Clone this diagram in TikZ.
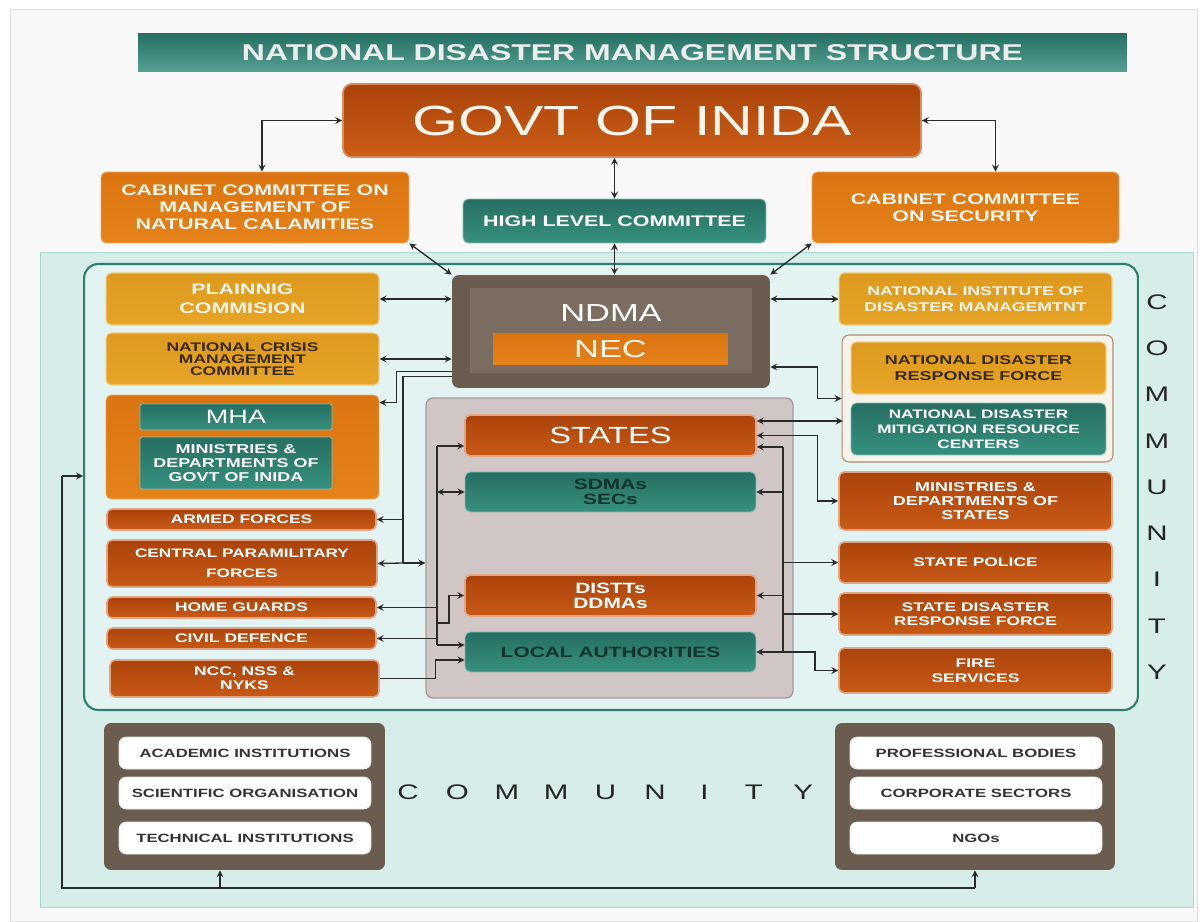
\documentclass[tikz,border=0pt]{standalone}
\usepackage{fontspec}
\setmainfont[FakeStretch=1.4]{Liberation Sans}
\usepackage{tikz}
\usetikzlibrary{arrows}

\definecolor{tealbar}{HTML}{37907F}
\definecolor{tealdark}{HTML}{256F62}
\definecolor{rust}{HTML}{C85A16}
\definecolor{rustdark}{HTML}{AB430B}
\definecolor{rustedge}{HTML}{E2A487}
\definecolor{amber}{HTML}{E5821A}
\definecolor{amberdark}{HTML}{DA7410}
\definecolor{golden}{HTML}{E6A526}
\definecolor{goldendark}{HTML}{DD9A1E}
\definecolor{mudbrown}{HTML}{6A5C4F}
\definecolor{mudlight}{HTML}{7B6D61}
\definecolor{panelcyan}{HTML}{D6EDE9}
\definecolor{panelinner}{HTML}{E2F3F1}
\definecolor{panelline}{HTML}{2E7D6F}
\definecolor{paneledge}{HTML}{A8D8D0}
\definecolor{stategray}{HTML}{D0C6C6}
\definecolor{stateedge}{HTML}{A59B9B}
\definecolor{inkdark}{HTML}{2A2A2A}
\definecolor{textbrown}{HTML}{3A2910}
\definecolor{textteal}{HTML}{14332E}
\definecolor{cream}{HTML}{FFF5EA}
\definecolor{ndrffill}{HTML}{F6F2EC}
\definecolor{ndrfedge}{HTML}{B38B6D}
\definecolor{pagegray}{HTML}{F8F8F8}
\definecolor{govtedge}{HTML}{D98A5E}

\newcommand{\headfont}{\fontsize{13}{15}\selectfont\bfseries}
\newcommand{\govtfont}{\fontsize{24}{28}\selectfont}
\newcommand{\midfont}{\fontsize{8.7}{9.6}\selectfont\bfseries}
\newcommand{\boxfont}{\fontsize{7.1}{8.2}\selectfont\bfseries}
\newcommand{\bigfont}{\fontsize{14}{16}\selectfont}

\tikzstyle{boxbase} = [rectangle, rounded corners=3pt, text centered, align=center, inner sep=1pt, text=white]
\tikzstyle{rustbox} = [boxbase, draw=rustedge, line width=0.9pt, top color=rustdark, bottom color=rust, font=\boxfont]
\tikzstyle{amberbox} = [boxbase, draw=amber!70!white, line width=0.5pt, top color=amberdark, bottom color=amber]
\tikzstyle{goldbox} = [boxbase, draw=golden!60!white, line width=0.6pt, top color=goldendark, bottom color=golden, font=\boxfont]
\tikzstyle{tealbox} = [boxbase, draw=tealbar!60!white, line width=0.5pt, top color=tealdark, bottom color=tealbar]
\tikzstyle{mudbox} = [rectangle, rounded corners=4pt, fill=mudbrown]
\tikzstyle{whitebox} = [boxbase, rounded corners=4pt, fill=white, draw=black!10, text=black!80, font=\fontsize{6.8}{8}\selectfont\bfseries, minimum width=5.04cm, minimum height=0.64cm]
\tikzstyle{commletter} = [text=black!85, font=\fontsize{12}{14}\selectfont, inner sep=0pt]
\tikzstyle{arrow} = [->,>=stealth, draw=inkdark, line width=0.75pt]
\tikzstyle{dblarrow} = [<->,>=stealth, draw=inkdark, line width=0.75pt]
\tikzstyle{wire} = [draw=inkdark, line width=0.75pt]

\begin{document}
\begin{tikzpicture}[x=0.02cm, y=-0.02cm]
%页面
\useasboundingbox (0,0) rectangle (1204,922);
\fill [white] (0,0) rectangle (1204,922);
\draw [black!12, fill=pagegray] (10,9) rectangle (1197,921);

%标题与中央政府
\node (title) [boxbase, rounded corners=0pt, top color=tealdark, bottom color=tealbar!85!white, minimum width=19.78cm, minimum height=0.78cm, font=\headfont, text=white!93!black] at (632.5,52.5) {NATIONAL DISASTER MANAGEMENT STRUCTURE};
\node (govt) [boxbase, rounded corners=5pt, draw=govtedge, line width=1pt, top color=rustdark, bottom color=rust!90!amber, minimum width=11.56cm, minimum height=1.46cm, font=\govtfont, text=cream] at (632,120.5) {GOVT OF INIDA};
\node (ccmnc) [amberbox, minimum width=6.16cm, minimum height=1.42cm, font=\midfont, text=cream] at (255,207.5) {CABINET COMMITTEE ON\\MANAGEMENT OF\\NATURAL CALAMITIES};
\node (hlc) [tealbox, minimum width=6.06cm, minimum height=0.88cm, font=\midfont] at (614.5,221) {HIGH LEVEL COMMITTEE};
\node (ccs) [amberbox, minimum width=6.14cm, minimum height=1.42cm, font=\midfont, text=cream] at (965.5,207.5) {CABINET COMMITTEE\\ON SECURITY};

%底板
\node (commpanel) [rectangle, fill=panelcyan, draw=paneledge, minimum width=23.06cm, minimum height=13.1cm] at (616.5,579.5) {};
\node (govpanel) [rectangle, rounded corners=8pt, fill=panelinner, draw=panelline, line width=1.2pt, minimum width=21.08cm, minimum height=8.92cm] at (611,487) {};

%NDMA
\node (ndma) [mudbox, minimum width=6.36cm, minimum height=2.26cm] at (611,331.5) {};
\node (ndmainner) [rectangle, fill=mudlight, minimum width=5.64cm, minimum height=1.7cm] at (611,330.5) {};
\node (ndmalabel) [text=white, font=\bigfont] at (611,313) {NDMA};
\node (nec) [rectangle, top color=amberdark, bottom color=amber, minimum width=4.7cm, minimum height=0.64cm, text=cream, font=\bigfont, inner sep=0pt] at (610.5,349) {NEC};

%州和地方
\node (statepanel) [rectangle, rounded corners=4pt, fill=stategray, draw=stateedge, line width=0.8pt, minimum width=7.34cm, minimum height=6cm] at (609.5,548) {};
\node (states) [rustbox, minimum width=5.82cm, minimum height=0.82cm, font=\fontsize{13.3}{15}\selectfont] at (610.5,435.5) {STATES};
\node (sdma) [tealbox, minimum width=5.82cm, minimum height=0.8cm, text=textteal, font=\fontsize{8.5}{8.4}\selectfont\bfseries] at (610.5,492) {SDMAs\\SECs};
\node (distt) [rustbox, minimum width=5.82cm, minimum height=0.82cm, font=\fontsize{8.5}{8.4}\selectfont\bfseries] at (610.5,595.5) {DISTTs\\DDMAs};
\node (local) [tealbox, minimum width=5.82cm, minimum height=0.8cm, text=textteal, font=\fontsize{8.5}{10}\selectfont\bfseries] at (610.5,652) {LOCAL AUTHORITIES};

%左列
\node (plan) [goldbox, minimum width=5.46cm, minimum height=1.04cm, font=\fontsize{8.7}{10.8}\selectfont\bfseries, text=cream] at (242.5,299) {PLAINNIG\\COMMISION};
\node (ncmc) [goldbox, minimum width=5.46cm, minimum height=1.04cm, font=\fontsize{7.1}{6.9}\selectfont\bfseries, text=textbrown] at (242.5,359) {NATIONAL CRISIS\\MANAGEMENT\\COMMITTEE};
\node (mhabox) [amberbox, minimum width=5.46cm, minimum height=2.08cm] at (242.5,447) {};
\node (mha) [tealbox, rounded corners=1pt, minimum width=3.84cm, minimum height=0.52cm, font=\fontsize{11}{12}\selectfont, inner sep=0pt] at (236,417) {MHA};
\node (mingov) [tealbox, rounded corners=1pt, minimum width=3.84cm, minimum height=1.04cm, font=\fontsize{7.3}{8.2}\selectfont\bfseries] at (236,463) {MINISTRIES \&\\DEPARTMENTS OF\\GOVT OF INIDA};
\node (armed) [rustbox, minimum width=5.38cm, minimum height=0.42cm] at (241.5,519.5) {ARMED FORCES};
\node (cpf) [rustbox, minimum width=5.4cm, minimum height=0.94cm, font=\fontsize{7}{11.3}\selectfont\bfseries] at (242,563.5) {CENTRAL PARAMILITARY\\FORCES};
\node (hguards) [rustbox, minimum width=5.38cm, minimum height=0.42cm] at (241.5,607.5) {HOME GUARDS};
\node (cdef) [rustbox, minimum width=5.38cm, minimum height=0.42cm] at (241.5,638.5) {CIVIL DEFENCE};
\node (ncc) [rustbox, minimum width=5.38cm, minimum height=0.74cm, font=\fontsize{7.1}{8}\selectfont\bfseries] at (244.5,678.5) {NCC, NSS \&\\NYKS};

%右列
\node (nidm) [goldbox, minimum width=5.46cm, minimum height=1.04cm, font=\fontsize{7.2}{9}\selectfont\bfseries, text=cream] at (975.5,299) {NATIONAL INSTITUTE OF\\DISASTER MANAGEMTNT};
\node (ndrfbox) [rectangle, rounded corners=4pt, fill=ndrffill, draw=ndrfedge, line width=0.6pt, minimum width=5.42cm, minimum height=2.54cm] at (977.5,398.5) {};
\node (ndrf) [goldbox, minimum width=5.1cm, minimum height=1.04cm, font=\fontsize{7.3}{8.8}\selectfont\bfseries, text=textbrown] at (978.5,368) {NATIONAL DISASTER\\RESPONSE FORCE};
\node (ndmrc) [tealbox, minimum width=5.1cm, minimum height=1.04cm, font=\fontsize{7}{8.5}\selectfont\bfseries] at (978.5,429) {NATIONAL DISASTER\\MITIGATION RESOURCE\\CENTERS};
\node (mds) [rustbox, minimum width=5.46cm, minimum height=1.16cm, font=\fontsize{7.3}{8}\selectfont\bfseries] at (975.5,501) {MINISTRIES \&\\DEPARTMENTS OF\\STATES};
\node (spolice) [rustbox, minimum width=5.46cm, minimum height=0.82cm] at (975.5,562.5) {STATE POLICE};
\node (sdrf) [rustbox, minimum width=5.46cm, minimum height=0.84cm, font=\fontsize{7.1}{8.3}\selectfont\bfseries] at (975.5,614) {STATE DISASTER\\RESPONSE FORCE};
\node (fire) [rustbox, minimum width=5.46cm, minimum height=0.9cm, font=\fontsize{7.1}{8.5}\selectfont\bfseries] at (975.5,670.5) {FIRE\\SERVICES};

%社区
\node (lbrown) [mudbox, minimum width=5.62cm, minimum height=2.94cm] at (244.5,796.5) {};
\node (acad) [whitebox] at (245,753) {ACADEMIC INSTITUTIONS};
\node (scien) [whitebox] at (245,793) {SCIENTIFIC ORGANISATION};
\node (techn) [whitebox] at (245,838) {TECHNICAL INSTITUTIONS};
\node (rbrown) [mudbox, minimum width=5.6cm, minimum height=2.94cm] at (975,796.5) {};
\node (profb) [whitebox] at (976,753) {PROFESSIONAL BODIES};
\node (corps) [whitebox] at (976,793) {CORPORATE SECTORS};
\node (ngos) [whitebox] at (976,838) {NGOs};
\foreach \ch [count=\i from 0] in {C,O,M,M,U,N,I,T,Y} {
  \node (across\i) [commletter] at (408+49.4*\i,792) {\ch};
  \node (down\i) [commletter] at (1157,302+46.25*\i) {\ch};
}

%连接上层
\draw [dblarrow] (govt.west) -| ([xshift=0.14cm]ccmnc.north);
\draw [dblarrow] (govt.east) -| ([xshift=0.6cm]ccs.north);
\draw [dblarrow] (hlc.north) -- (hlc.north |- govt.south);
\draw [dblarrow] (hlc.south) -- (hlc.south |- ndma.north);
\draw [dblarrow] (ccmnc.south east) -- (ndma.north west);
\draw [dblarrow] (ccs.south west) -- (ndma.north east);

%连接左列
\draw [dblarrow] (plan.east) -- (plan.east -| ndma.west);
\draw [dblarrow] (ncmc.east) -- (ncmc.east -| ndma.west);
\draw [arrow] ([yshift=0.34cm]ndma.south west) -- ++(-55,0) |- ([yshift=-0.16cm]mhabox.north east);
\coordinate (lknot) at (403,563);
\draw [wire] ([yshift=0.24cm]ndma.south west) -| (lknot);
\draw [arrow] (lknot) -- (cpf.east);
\draw [arrow] (lknot) -- (lknot -| statepanel.west);
\draw [arrow] (lknot |- armed.east) -- (armed.east);
\coordinate (ltop) at (437,446);
\coordinate (lbot) at (437,645);
\draw [wire] (ltop) -- (lbot);
\draw [arrow] (ltop) -- (ltop -| states.west);
\draw [dblarrow] (ltop |- sdma.west) -- (sdma.west);
\draw [arrow] (ltop |- hguards.east) -- (hguards.east);
\draw [arrow] (ltop |- cdef.east) -- (cdef.east);
\draw [arrow] (lbot) -- (lbot -| local.west);
\coordinate (dknot) at (437,623);
\draw [arrow] (dknot) -- ++(12,0) |- (distt.west);
\draw [arrow] (ncc.east) -- ++(56,0) |- ([yshift=-0.16cm]local.west);

%连接右列
\draw [dblarrow] (nidm.west) -- (nidm.west -| ndma.east);
\draw [dblarrow] ([yshift=-0.71cm]ndma.east) -- ++(47,0) |- (ndrfbox.west);
\draw [dblarrow] ([yshift=0.29cm]states.east) -- ++(86,0);
\draw [dblarrow] (states.east) -- ++(61,0) |- (mds.west);
\coordinate (rtop) at (783,447);
\coordinate (rbot) at (783,652);
\draw [wire] (rtop) -- (rbot);
\draw [arrow] (rtop) -- (rtop -| states.east);
\draw [arrow] (rtop |- sdma.east) -- (sdma.east);
\draw [arrow] (rtop |- distt.east) -- (distt.east);
\draw [arrow] (rbot) -- (rbot -| local.east);
\draw [arrow] (rtop |- spolice.west) -- (spolice.west);
\draw [arrow] (rtop |- sdrf.west) -- (sdrf.west);
\draw [arrow] (rbot) -- ++(32,0) |- (fire.west);

%社区回路
\coordinate (loopstart) at (62,476);
\coordinate (loopend) at (62,888);
\coordinate (lfoot) at (220,888);
\draw [arrow] (loopstart) -- (loopstart -| govpanel.west);
\draw [wire] (loopstart) -- (loopend) -- (loopend -| rbrown.south);
\draw [arrow] (loopend -| rbrown.south) -- (rbrown.south);
\draw [arrow] (lfoot) -- (lfoot |- lbrown.south);
\end{tikzpicture}
\end{document}
